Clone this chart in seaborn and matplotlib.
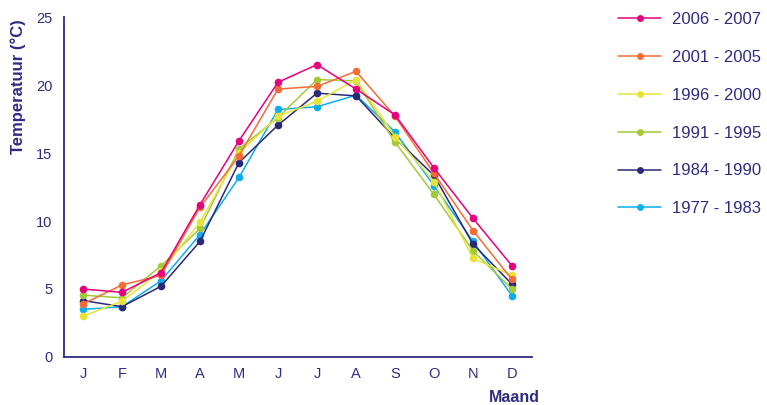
import matplotlib
matplotlib.use("Agg")
import matplotlib.pyplot as plt
import seaborn as sns
import pandas as pd

# ------------- DATA -------------
months = ["J", "F", "M", "A", "M", "J", "J", "A", "S", "O", "N", "D"]
periods = ["2006 - 2007", "2001 - 2005", "1996 - 2000", "1991 - 1995", "1984 - 1990", "1977 - 1983"]
colors = ["#E5007D", "#F36C35", "#E8E437", "#A3C93A", "#2A2977", "#0DAEEA"]

t_2006_2007 = [5.0, 4.75, 6.2, 11.2, 15.9, 20.2, 21.5, 19.7, 17.8, 13.9, 10.2, 6.7]
t_2001_2005 = [3.9, 5.3, 6.0, 11.0, 14.8, 19.7, 19.9, 21.0, 17.7, 13.5, 9.3, 5.7]
t_1996_2000 = [3.0, 4.1, 6.3, 9.9, 15.0, 17.7, 18.8, 20.4, 16.2, 12.9, 7.25, 6.0]
t_1991_1995 = [4.55, 4.35, 6.7, 9.45, 15.3, 17.6, 20.4, 20.3, 15.8, 11.95, 7.8, 5.0]
t_1984_1990 = [4.15, 3.7, 5.2, 8.5, 14.3, 17.05, 19.4, 19.2, 16.1, 13.35, 8.3, 5.35]
t_1977_1983 = [3.5, 3.7, 5.6, 9.0, 13.2, 18.2, 18.4, 19.25, 16.55, 12.6, 8.5, 4.5]

series = [t_2006_2007, t_2001_2005, t_1996_2000, t_1991_1995, t_1984_1990, t_1977_1983]

# long form table, month position as number (labels repeat)
rows = []
for name, vals in zip(periods, series):
    for i, v in enumerate(vals):
        rows.append({"maand": i, "temp": v, "periode": name})
df = pd.DataFrame(rows)

# ------------- PLOT -------------
sns.set_style("white")
plt.rcParams["font.family"] = ["Liberation Sans", "DejaVu Sans"]
navy = "#2E2C80"

fig = plt.figure(figsize=(7.67, 4.05), dpi=100)
ax = fig.add_axes([63.5 / 767, 48 / 405, 468 / 767, 340 / 405])

# draw oldest first so newest ends on top
sns.lineplot(data=df, x="maand", y="temp", hue="periode",
             hue_order=periods[::-1], palette=colors[::-1],
             marker="o", markersize=5.5, markeredgewidth=0,
             linewidth=1.1, sort=False, ax=ax)

ax.set_xlim(-0.5, 11.5)
ax.set_ylim(0, 25)
ax.set_yticks([0, 5, 10, 15, 20, 25])
ax.set_xticks([i - 0.5 for i in range(13)])
ax.set_xticklabels([])
ax.set_xticks(range(12), minor=True)
ax.set_xticklabels(months, minor=True)
ax.tick_params(axis="x", which="major", direction="out", length=7, width=1.2, color=navy)
ax.tick_params(axis="x", which="minor", length=0, pad=7, labelsize=10.5, labelcolor=navy)
ax.tick_params(axis="y", direction="out", length=5, width=1.2, color=navy,
               labelsize=10.5, labelcolor=navy, pad=3)

sns.despine(ax=ax)
for s in ("left", "bottom"):
    ax.spines[s].set_color(navy)
    ax.spines[s].set_linewidth(1.3)
ax.set_xlabel("")
ax.set_ylabel("")

fig.text(18 / 767, 1 - 19 / 405, "Temperatuur (°C)", rotation=90, ha="center", va="top",
         fontsize=12, fontweight="bold", color=navy)
fig.text(540 / 767, 1 - 397 / 405, "Maand", ha="right", va="center",
         fontsize=11.5, fontweight="bold", color=navy)

handles, labels = ax.get_legend_handles_labels()
ax.legend(handles[::-1], labels[::-1], loc="upper left",
          bbox_to_anchor=(618 / 767, 1 - 12 / 405), bbox_transform=fig.transFigure,
          frameon=False, fontsize=12, labelcolor=navy, borderpad=0, borderaxespad=0,
          handlelength=2.6, handletextpad=0.65, labelspacing=1.37, markerscale=0.9)

plt.savefig("out.png", dpi=100)
